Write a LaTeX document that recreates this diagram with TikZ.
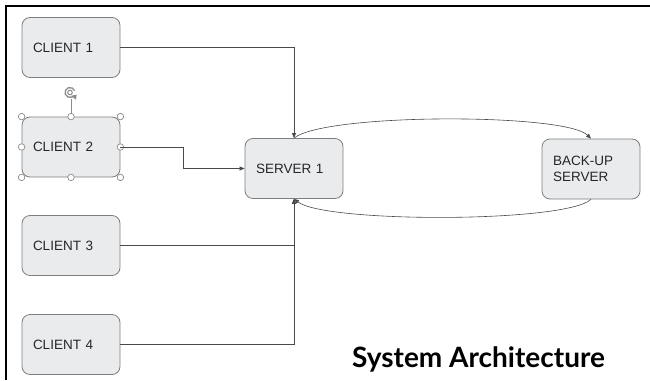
\documentclass[tikz,border=0pt]{standalone}
\usepackage{fontspec}
\setmainfont{Liberation Sans}
\newfontfamily\titlefont{Lato}
\usetikzlibrary{arrows.meta,calc}
\definecolor{boxfill}{HTML}{E9EBED}
\definecolor{boxline}{HTML}{7F7F7F}
\definecolor{wire}{HTML}{4A4A4A}
\definecolor{handle}{HTML}{8C8C8C}
\tikzset{
  unit/.style={draw=boxline, fill=boxfill, line width=0.8pt, rounded corners=8pt,
    minimum width=98pt, minimum height=60pt, text width=76pt, inner xsep=11pt,
    align=left, font=\fontsize{13.5}{16.5}\selectfont, text=black!85},
  conn/.style={draw=wire, line width=0.7pt, -{Triangle[length=5pt,width=4pt]}},
  link/.style={draw=wire, line width=0.6pt, -{Triangle[length=5pt,width=4pt]}},
  grip/.style={circle, draw=handle, fill=white, line width=0.7pt, minimum size=6.5pt, inner sep=0pt},
}
\begin{document}
\begin{tikzpicture}[x=1pt, y=-1pt]
  \useasboundingbox (0,0) rectangle (650,380);
  % outer frame (top and left edges)
  \draw[line width=2pt] (650,6) -- (6,6) -- (6,380);

  % clients, server and backup
  \node[unit] (c1) at (71,47.5) {CLIENT 1};
  \node[unit] (c2) at (71,147) {CLIENT 2};
  \node[unit] (c3) at (71,245.5) {CLIENT 3};
  \node[unit] (c4) at (71,344.5) {CLIENT 4};
  \node[unit] (s1) at (294,168.5) {SERVER 1};
  \node[unit] (bk) at (591,169) {BACK-UP\\SERVER};

  % selection handles and rotation grip on CLIENT 2
  \coordinate (rot) at (70,92.5);
  \draw[handle, line width=0.7pt] (c2.north) -- ++(0,-18);
  \foreach \a in {north west,north,north east,west,east,south west,south,south east}
    \node[grip] (h-\a) at (c2.\a) {};
  \draw[handle, line width=1.3pt] ($(rot)+(20:5pt)$) arc[start angle=20, end angle=320, radius=5pt];
  \draw[handle, line width=1pt] (rot) circle[radius=2.3pt];
  \fill[handle] ($(rot)+(-40:5pt)+(-2.6,0.2)$) -- ++(5.4,-1.2) -- ++(-0.6,5) -- cycle;

  % client connections
  \draw[conn] (c1.east) -| (s1.north);
  \draw[conn] (c2.east) -- ++(63,0) |- (s1.west);
  \draw[conn] (c3.east) -| (s1.south);
  \draw[conn] (c4.east) -| (s1.south);

  % replication link between the servers
  \draw[link] (s1.north) .. controls (325,113) and (565,113) .. (bk.north);
  \draw[link] (bk.south) .. controls (565,223) and (325,223) .. (s1.south);

  % title
  \node[anchor=base west, inner sep=0pt, font=\titlefont\bfseries\fontsize{28}{32}\selectfont] (title) at (352,367) {System Architecture};
\end{tikzpicture}
\end{document}
